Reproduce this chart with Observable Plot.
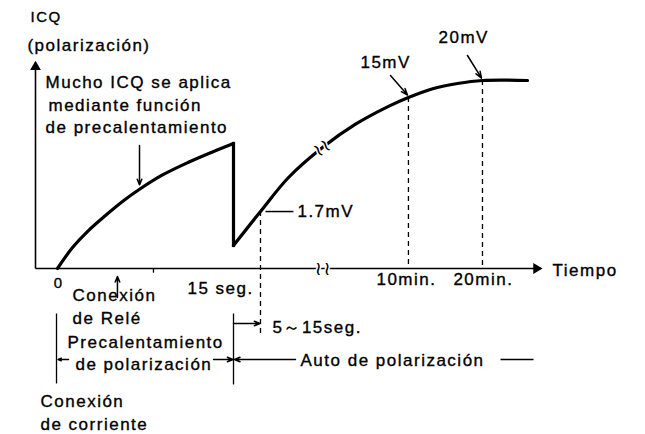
<!DOCTYPE html>
<html><head><meta charset="utf-8">
<script src="https://cdn.jsdelivr.net/npm/d3@7"></script>
<script src="https://cdn.jsdelivr.net/npm/@observablehq/plot@0.6"></script>
<style>
body{margin:0;background:#fff}
#chart svg{display:block}
#chart text{letter-spacing:1.5px}
</style>
</head><body><div id="chart"></div>
<script>
// ---- data (schematic units: t = time position, v = ICQ level) ----
const seg1T = [0, 1.28, 2.64, 4.09, 5.54, 6.90, 8.95, 11.16, 13.21, 15];
const seg1V = [0, 2.23, 4.04, 5.64, 7.13, 8.35, 9.95, 11.3, 12.4, 13.3];
const dropT = [15, 15];
const dropV = [13.3, 2.45];
const seg2T = [15, 17.3, 19.69, 22.58, 25.40, 28.21, 29.91, 32.05, 34.09, 36.22, 40.06];
const seg2V = [2.45, 6.06, 9.68, 12.87, 15.35, 17.25, 18.19, 19.15, 19.68, 20, 20];
const markLabels = ["1.7mV", "15mV", "20mV"];
const markT = [17.3, 29.91, 36.22];
const markV = [6.06, 18.19, 20];
const tickLabels = ["0", "15 seg.", "10min.", "20min."];
const tickT = [0, 15, 29.91, 36.22];

const zip = (ts, vs) => ts.map((t, i) => ({t, v: vs[i]}));
const seg1 = zip(seg1T, seg1V), drop = zip(dropT, dropV), seg2 = zip(seg2T, seg2V);
const markers = markLabels.map((label, i) => ({label, t: markT[i], v: markV[i]}));
const ticks = tickLabels.map((label, i) => ({label, t: tickT[i]}));

// ---- layout (annotation placement, in chart units) ----
const yAxisT = -1.875, axisEndT = 41.16, yAxisTop = 21.9;
const dashBottom = [-7.34, 0, 0];
const markLabelPos = [{x: 20.45, y: 6.1}, {x: 25.82, y: 21.91}, {x: 32.47, y: 24.57}];
const markLeader = [{x1: 17.73, y1: 6.06, x2: 20.11, y2: 6.06, head: false},
                    {x1: 28.38, y1: 20.53, x2: 29.83, y2: 18.45, head: true},
                    {x1: 34.94, y1: 22.66, x2: 36.14, y2: 20.25, head: true}];
const tickLabelPos = [{x: 0.09, y: -1.55, size: 15}, {x: 13.9, y: -2.13, size: 17},
                      {x: 29.74, y: -1.17, size: 17}, {x: 36.3, y: -1.17, size: 17}];
const notes = [
  {text: "ICQ", x: -2.30, y: 26.70, size: 15},
  {text: "(polarización)", x: -2.56, y: 23.72, size: 17},
  {text: "Mucho ICQ se aplica", x: -1.02, y: 19.79, size: 17},
  {text: "mediante función", x: -0.77, y: 17.34, size: 17},
  {text: "de precalentamiento", x: -1.02, y: 15.0, size: 17},
  {text: "Tiempo", x: 42.19, y: -0.21, size: 17},
  {text: "Conexión", x: 1.28, y: -2.87, size: 17},
  {text: "de Relé", x: 1.28, y: -5.32, size: 17},
  {text: "Precalentamiento", x: 0.85, y: -7.87, size: 17},
  {text: "de polarización", x: 1.53, y: -10.21, size: 17},
  {text: "5～15seg.", x: 18.32, y: -6.28, size: 17},
  {text: "Auto de polarización", x: 20.71, y: -9.79, size: 17},
  {text: "Conexión", x: -1.45, y: -14.15, size: 17},
  {text: "de corriente", x: -1.45, y: -16.6, size: 17}
];
const arrows = [
  {x1: 6.99, y1: 13.09, x2: 6.99, y2: 8.9},
  {x1: 5.11, y1: -3.09, x2: 5.11, y2: -0.85},
  {x1: 0.94, y1: -9.68, x2: 0.05, y2: -9.68},
  {x1: 13.3, y1: -9.68, x2: 14.95, y2: -9.68},
  {x1: 20.28, y1: -9.68, x2: 15.08, y2: -9.68},
  {x1: 15.0, y1: -5.85, x2: 17.25, y2: -5.85}
];
const plainRules = [
  {x1: 37.76, y1: -9.68, x2: 40.57, y2: -9.68},
  {x1: -0.085, y1: -4.79, x2: -0.085, y2: -12.23},
  {x1: 15.0, y1: -4.79, x2: 15.0, y2: -12.34},
  {x1: 8.18, y1: 0, x2: 8.18, y2: -0.45}
];
const axisHeads = [{x: yAxisT, y: yAxisTop - 0.45, r: 0}, {x: axisEndT - 0.35, y: 0, r: 90}];
const breaks = [{x: 22.58, y: 12.87, r: -35}, {x: 22.67, y: 0, r: 0}];
const ink = {fill: "#000", stroke: "#000", strokeWidth: 0.35};

const chart = Plot.plot({
  width: 645, height: 434, margin: 0,
  x: {domain: [0, 15], range: [57, 233], axis: null},
  y: {domain: [0, 20], range: [268, 80], axis: null},
  style: {fontFamily: "'Liberation Sans', Arial, sans-serif", background: "#fff", color: "#000"},
  marks: [
    Plot.link([0], {x1: yAxisT, y1: 0, x2: yAxisT, y2: yAxisTop, stroke: "#000", strokeWidth: 1.6}),
    Plot.link([0], {x1: yAxisT, y1: 0, x2: axisEndT, y2: 0, stroke: "#000", strokeWidth: 1.6}),
    Plot.dot(axisHeads, {x: "x", y: "y", rotate: "r", symbol: "triangle", r: 4, fill: "#000", stroke: null}),
    Plot.ruleX(markers, {x: "t", y1: "v", y2: (d, i) => dashBottom[i], stroke: "#000", strokeWidth: 1.3, strokeDasharray: "5,4"}),
    Plot.line(seg1, {x: "t", y: "v", curve: "catmull-rom", stroke: "#000", strokeWidth: 3.2, strokeLinecap: "round"}),
    Plot.line(drop, {x: "t", y: "v", stroke: "#000", strokeWidth: 3.2, strokeLinecap: "square"}),
    Plot.line(seg2, {x: "t", y: "v", curve: "catmull-rom", stroke: "#000", strokeWidth: 3.2, strokeLinecap: "round"}),
    Plot.text(breaks, {x: "x", y: "y", rotate: "r", text: () => "≀≀", fontSize: 19, fontFamily: "DejaVu Sans", stroke: "#fff", strokeWidth: 3, paintOrder: "stroke", fill: "#000"}),
    Plot.link(markLeader.filter(d => !d.head), {x1: "x1", y1: "y1", x2: "x2", y2: "y2", stroke: "#000", strokeWidth: 1.5}),
    Plot.arrow(markLeader.filter(d => d.head), {x1: "x1", y1: "y1", x2: "x2", y2: "y2", stroke: "#000", strokeWidth: 1.5, headLength: 7, headAngle: 40}),
    Plot.text(markers, {x: (d, i) => markLabelPos[i].x, y: (d, i) => markLabelPos[i].y, text: "label", textAnchor: "start", fontSize: 17, ...ink}),
    Plot.text(ticks, {x: (d, i) => tickLabelPos[i].x, y: (d, i) => tickLabelPos[i].y, text: "label", fontSize: (d, i) => tickLabelPos[i].size, textAnchor: "middle", ...ink}),
    Plot.arrow(arrows, {x1: "x1", y1: "y1", x2: "x2", y2: "y2", stroke: "#000", strokeWidth: 1.5, headLength: 6, headAngle: 45}),
    Plot.link(plainRules, {x1: "x1", y1: "y1", x2: "x2", y2: "y2", stroke: "#000", strokeWidth: 1.3}),
    Plot.text(notes, {x: "x", y: "y", text: "text", fontSize: "size", textAnchor: "start", ...ink})
  ]
});
document.getElementById("chart").append(chart);
</script></body></html>
